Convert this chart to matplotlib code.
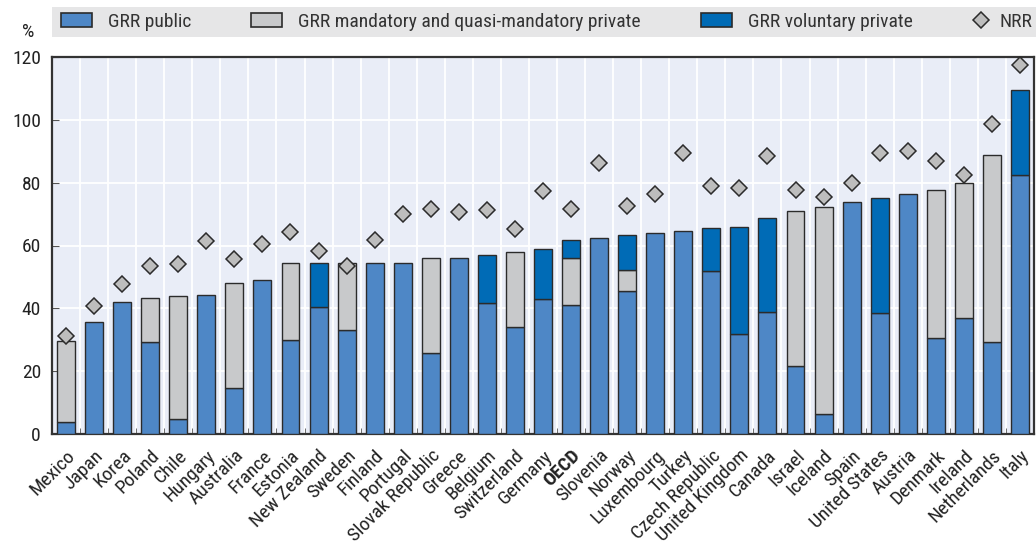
import matplotlib
matplotlib.use("Agg")
import numpy as np
from matplotlib import pyplot as plt
from matplotlib.patches import Rectangle, Patch
from matplotlib.lines import Line2D

plt.rcParams['font.family'] = ['Roboto Condensed', 'DejaVu Sans']

countries = ["Mexico", "Japan", "Korea", "Poland", "Chile", "Hungary", "Australia", "France", "Estonia",
             "New Zealand", "Sweden", "Finland", "Portugal", "Slovak Republic", "Greece", "Belgium",
             "Switzerland", "Germany", "OECD", "Slovenia", "Norway", "Luxembourg", "Turkey", "Czech Republic",
             "United Kingdom", "Canada", "Israel", "Iceland", "Spain", "United States", "Austria", "Denmark",
             "Ireland", "Netherlands", "Italy"]

# stacked parts (public, mandatory private, voluntary private) and NRR markers
grr_public = [3.7, 35.7, 41.9, 29.4, 4.8, 44.3, 14.6, 49.0, 30.0,
              40.4, 33.0, 54.4, 54.5, 25.8, 56.1, 41.8,
              34.1, 43.0, 41.2, 62.3, 45.5, 63.9, 64.6, 51.8,
              31.7, 38.7, 21.7, 6.5, 73.9, 38.6, 76.5, 30.6,
              36.9, 29.4, 82.4]
grr_mandatory = [25.8, 0, 0, 14.0, 39.1, 0, 33.4, 0, 24.3,
                 0, 21.3, 0, 0, 30.1, 0, 0,
                 23.7, 0, 14.7, 0, 6.7, 0, 0, 0,
                 0, 0, 49.3, 65.9, 0, 0, 0, 47.2,
                 42.9, 59.3, 0]
grr_voluntary = [0, 0, 0, 0, 0, 0, 0, 0, 0,
                 13.9, 0, 0, 0, 0, 0, 15.3,
                 0, 16.0, 6.0, 0, 11.0, 0, 0, 13.9,
                 34.3, 29.9, 0, 0, 0, 36.6, 0, 0,
                 0, 0, 27.0]
nrr = [31.2, 40.7, 47.6, 53.4, 54.0, 61.4, 55.8, 60.6, 64.2,
       58.4, 53.5, 61.8, 69.9, 71.5, 70.6, 71.3,
       65.1, 77.5, 71.6, 86.3, 72.5, 76.3, 89.3, 79.0,
       78.3, 88.4, 77.7, 75.4, 80.0, 89.4, 90.1, 86.9,
       82.4, 98.6, 117.4]

c_public = "#4e87c6"
c_mand = "#c8c9cb"
c_vol = "#006bb6"
c_edge = "#2b2b2b"
fs = 14

fig = plt.figure(figsize=(10.36, 5.46), dpi=100)
ax = fig.add_axes([52 / 1036, 112 / 546, 982 / 1036, 377 / 546])
ax.set_facecolor("#e9edf7")

x = np.arange(len(countries))
pub = np.array(grr_public)
mand = np.array(grr_mandatory)
vol = np.array(grr_voluntary)
w = 0.64
kw = dict(width=w, edgecolor=c_edge, linewidth=1.0, zorder=3)
ax.bar(x, pub, color=c_public, **kw)
ax.bar(x[mand > 0], mand[mand > 0], bottom=pub[mand > 0], color=c_mand, **kw)
ax.bar(x[vol > 0], vol[vol > 0], bottom=(pub + mand)[vol > 0], color=c_vol, **kw)
ax.plot(x, nrr, linestyle="none", marker="D", markersize=8.5, markerfacecolor="#bdbdbd",
        markeredgecolor=c_edge, markeredgewidth=1.1, zorder=4, clip_on=False)

ax.set_xlim(-0.5, len(countries) - 0.5)
ax.set_ylim(0, 120)
ax.set_yticks(range(0, 121, 20))
ax.set_xticks(x)
ax.set_xticklabels(countries, rotation=45, ha="right", rotation_mode="anchor", fontsize=fs, color="#222222")
for lab in ax.get_xticklabels():
    if lab.get_text() == "OECD":
        lab.set_fontweight("bold")
ax.tick_params(axis="x", length=0, pad=9)
ax.tick_params(axis="y", direction="in", length=5, color="#555555", labelsize=fs, labelcolor="#222222", pad=8)
ax.set_xticks(np.arange(0.5, len(countries) - 1, 1), minor=True)
ax.tick_params(axis="x", which="minor", direction="in", length=4, color="#555555")
ax.grid(axis="y", color="white", linewidth=1.3, zorder=0)
ax.grid(axis="x", which="minor", color="white", linewidth=1.3, zorder=0)
ax.set_axisbelow(True)
for s in ax.spines.values():
    s.set_color("#333333")
    s.set_linewidth(1.6)

fig.text(28 / 1036, 1 - 32 / 546, "%", fontsize=fs, color="#222222", ha="center", va="center")

# legend band, one legend per entry so the spacing follows the original
fig.patches.append(Rectangle((52 / 1036, 1 - 37 / 546), 1 - 52 / 1036, 30 / 546, transform=fig.transFigure,
                             facecolor="#e6e6e7", edgecolor="none", zorder=0))
handles = [Patch(facecolor=c_public, edgecolor=c_edge, linewidth=1.2),
           Patch(facecolor=c_mand, edgecolor=c_edge, linewidth=1.2),
           Patch(facecolor=c_vol, edgecolor=c_edge, linewidth=1.2),
           Line2D([], [], linestyle="none", marker="D", markersize=8.5, markerfacecolor="#bdbdbd",
                  markeredgecolor=c_edge, markeredgewidth=1.1)]
labels = ["GRR public", "GRR mandatory and quasi-mandatory private", "GRR voluntary private", "NRR"]
starts = [61, 251, 701, 972]
for h, lab, x0 in zip(handles, labels, starts):
    is_marker = isinstance(h, Line2D)
    leg = fig.legend([h], [lab], loc="center left", bbox_to_anchor=(x0 / 1036, 1 - 22 / 546),
                     frameon=False, fontsize=fs, handlelength=0.9 if is_marker else 1.6, handleheight=0.75,
                     handletextpad=0.5 if is_marker else 0.82, borderpad=0, borderaxespad=0)
    for t in leg.get_texts():
        t.set_color("#333333")

fig.savefig("out.png", dpi=100)
